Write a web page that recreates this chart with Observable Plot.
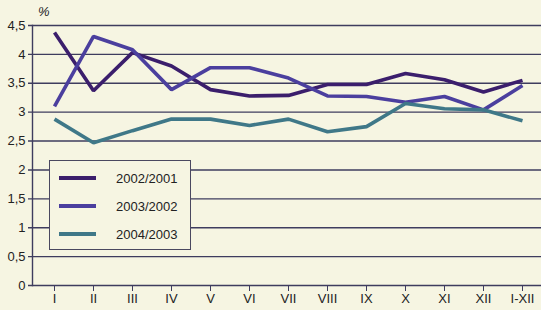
<!DOCTYPE html>
<html>
<head>
<meta charset="utf-8">
<script src="https://cdn.jsdelivr.net/npm/d3@7"></script>
<script src="https://cdn.jsdelivr.net/npm/@observablehq/plot@0.6"></script>
<style>
  html, body { margin: 0; padding: 0; background: #f6f5e2; }
  #wrap { position: relative; width: 541px; height: 310px; overflow: hidden; }
  #legend {
    position: absolute; left: 49px; top: 160px; width: 140px; height: 88px;
    border: 1.5px solid #4a4860; background: #f6f5e2;
    font-family: "Liberation Sans", Arial, sans-serif; font-size: 13px; color: #222;
  }
  .row { position: absolute; left: 9px; height: 14px; display: flex; align-items: center; }
  .sw { width: 37px; height: 3.5px; margin-right: 20px; }
  #pct { position: absolute; left: 38px; top: 4px; font-family: "Liberation Sans", Arial, sans-serif; font-size: 13px; font-style: italic; color: #222; }
</style>
</head>
<body>
<div id="wrap">
  <div id="chart"></div>
  <div id="pct">%</div>
  <div id="legend"></div>
</div>
<script>
const months = ["I","II","III","IV","V","VI","VII","VIII","IX","X","XI","XII","I-XII"];
const seriesNames = ["2002/2001","2003/2002","2004/2003"];
const s2002 = [4.38,3.37,4.03,3.8,3.39,3.28,3.29,3.48,3.48,3.67,3.56,3.35,3.55];
const s2003 = [3.1,4.31,4.08,3.39,3.77,3.77,3.59,3.28,3.27,3.17,3.27,3.04,3.46];
const s2004 = [2.88,2.47,2.68,2.88,2.88,2.77,2.88,2.66,2.75,3.15,3.06,3.04,2.85];
const yTicks = [0,0.5,1,1.5,2,2.5,3,3.5,4,4.5];
const colors = ["#3b1e6c","#4b3f9e","#3f7888"];

const values = [s2002, s2003, s2004];
const data = [];
seriesNames.forEach((name, i) => months.forEach((m, j) => data.push({series: name, month: m, value: values[i][j]})));

const fmt = d => String(d).replace(".", ",");

const chart = Plot.plot({
  width: 541,
  height: 310,
  marginLeft: 32,
  marginRight: 0,
  marginTop: 25,
  marginBottom: 25,
  style: {background: "transparent", fontFamily: "Liberation Sans, Arial, sans-serif", fontSize: "13px", color: "#222"},
  x: {type: "point", domain: months, range: [53, 523], padding: 0, label: null},
  y: {domain: [0, 4.5], label: null},
  color: {domain: seriesNames, range: colors},
  marks: [
    Plot.ruleY(yTicks, {stroke: "#3e3c5e", strokeWidth: 1.4, insetLeft: -4}),
    Plot.frame({anchor: "left", stroke: "#3e3c5e", strokeWidth: 1.4}),
    Plot.axisY({ticks: yTicks, tickFormat: fmt, tickSize: 0, tickPadding: 7, fontSize: 13}),
    Plot.axisX({tickSize: 6, tickPadding: 2, stroke: "#3e3c5e", fontSize: 13}),
    Plot.line(data, {x: "month", y: "value", z: "series", stroke: "series", strokeWidth: 3.6, strokeLinejoin: "miter", strokeLinecap: "butt"})
  ]
});
document.getElementById("chart").appendChild(chart);

const legend = document.getElementById("legend");
seriesNames.forEach((name, i) => {
  const row = document.createElement("div");
  row.className = "row";
  row.style.top = (10 + i * 28) + "px";
  const sw = document.createElement("div");
  sw.className = "sw";
  sw.style.background = colors[i];
  const t = document.createElement("span");
  t.textContent = name;
  row.appendChild(sw); row.appendChild(t);
  legend.appendChild(row);
});
</script>
</body>
</html>
